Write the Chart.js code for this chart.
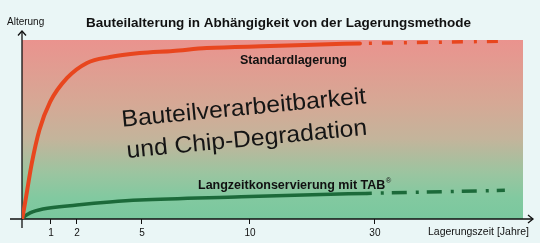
<!DOCTYPE html>
<html><head><meta charset="utf-8">
<script src="https://cdn.jsdelivr.net/npm/chart.js@4/dist/chart.umd.min.js"></script>
<style>html,body{margin:0;padding:0;background:#eaf6f6;overflow:hidden}#wrap{width:540px;height:243px;position:relative}</style>
</head><body><div id="wrap"><canvas id="c"></canvas></div>
<script>
// ---- texts ----
const chartTitle = 'Bauteilalterung in Abhängigkeit von der Lagerungsmethode';
const yAxisTitle = 'Alterung';
const xAxisTitle = 'Lagerungszeit [Jahre]';
const labelStandard = 'Standardlagerung';
const labelTab = 'Langzeitkonservierung mit TAB';
const centerLines = ['Bauteilverarbeitbarkeit', 'und Chip-Degradation'];

// ---- x axis (years, schematic broken scale) ----
const xTickValues = [1, 2, 5, 10, 30];
const axisBreakYears = [0, 1, 2, 5, 10, 30];
const axisBreakSpan  = [0, 29, 55, 120, 228, 353];
const xMaxYears = 53.7;

// ---- series: Standardlagerung (relative ageing, 0..100) ----
const standardYears  = [0, 0.03, 0.14, 0.34, 0.6, 0.97, 1.62, 2.46, 3.52, 4.9, 6.43, 8.0, 13.2, 20, 27.6];
const standardValues = [0, 2.2, 12.3, 31.3, 49.7, 65.4, 78.8, 87.2, 90.5, 92.7, 93.9, 95.5, 96.6, 97.4, 98.1];
const standardTrendYears  = [27.6, 49.7];
const standardTrendValues = [98.1, 99.3];

// ---- series: Langzeitkonservierung mit TAB ----
const tabYears  = [0, 0.03, 0.28, 0.72, 2.0, 3.52, 4.9, 9.6, 20, 28.7];
const tabValues = [0, 0.6, 3.4, 5.6, 7.8, 9.5, 10.6, 12.4, 13.6, 14.3];
const tabTrendYears  = [28.7, 50.8];
const tabTrendValues = [14.3, 16.0];

function pts(xs, ys){ return xs.map((x,i)=>({x:x, y:ys[i]})); }

function warp(v){
  const k = axisBreakYears, s = axisBreakSpan;
  if (v <= k[0]) return s[0];
  for (let i = 1; i < k.length; i++){
    if (v <= k[i]) return s[i-1] + (v-k[i-1])*(s[i]-s[i-1])/(k[i]-k[i-1]);
  }
  const n = k.length-1, slope = (s[n]-s[n-1])/(k[n]-k[n-1]);
  return s[n] + (v-k[n])*slope;
}
function unwarp(u){
  const k = axisBreakYears, s = axisBreakSpan;
  if (u <= s[0]) return k[0];
  for (let i = 1; i < s.length; i++){
    if (u <= s[i]) return k[i-1] + (u-s[i-1])*(k[i]-k[i-1])/(s[i]-s[i-1]);
  }
  const n = k.length-1, slope = (s[n]-s[n-1])/(k[n]-k[n-1]);
  return k[n] + (u-s[n])/slope;
}
class BrokenScale extends Chart.LinearScale {
  getPixelForValue(value){
    if (value === null || value === undefined) return NaN;
    const a = warp(this.min), b = warp(this.max);
    return this.getPixelForDecimal((warp(value)-a)/(b-a));
  }
  getValueForPixel(pixel){
    const a = warp(this.min), b = warp(this.max);
    return unwarp(a + this.getDecimalForPixel(pixel)*(b-a));
  }
}
BrokenScale.id = 'broken';
BrokenScale.defaults = Chart.LinearScale.defaults;
Chart.register(BrokenScale);

const FONT = '"Liberation Sans", Arial, sans-serif';
const RED = '#e8461e', GREEN = '#1c6a3a', INK = '#111';

const decor = {
  id: 'decor',
  beforeDatasetsDraw(chart){
    const {ctx, chartArea:a} = chart;
    ctx.save();
    const g = ctx.createLinearGradient(0, a.top, 0, a.bottom);
    g.addColorStop(0, '#ea938e');
    g.addColorStop(0.35, '#d6a895');
    g.addColorStop(0.55, '#c4b49b');
    g.addColorStop(0.75, '#9ac5a0');
    g.addColorStop(0.88, '#82c9a0');
    g.addColorStop(1, '#7ac89e');
    ctx.fillStyle = g;
    ctx.fillRect(a.left, a.top, a.right-a.left, a.bottom-a.top);
    // axes
    ctx.strokeStyle = INK; ctx.lineWidth = 1.3;
    ctx.beginPath();
    ctx.moveTo(a.left, a.top-9); ctx.lineTo(a.left, a.bottom+9);
    ctx.moveTo(a.left-12, a.bottom); ctx.lineTo(a.right+10, a.bottom);
    ctx.stroke();
    ctx.beginPath();
    ctx.moveTo(a.left-4, a.top-4.5); ctx.lineTo(a.left, a.top-9); ctx.lineTo(a.left+4, a.top-4.5);
    ctx.moveTo(a.right+5, a.bottom-4); ctx.lineTo(a.right+10, a.bottom); ctx.lineTo(a.right+5, a.bottom+4);
    ctx.stroke();
    ctx.restore();
  },
  afterDraw(chart){
    const {ctx, chartArea:a} = chart;
    ctx.save();
    ctx.fillStyle = INK;
    ctx.textBaseline = 'alphabetic';
    // title
    ctx.font = 'bold 13.5px ' + FONT;
    ctx.textAlign = 'center';
    ctx.fillText(chartTitle, (a.left+a.right)/2 + 6, 27);
    // axis titles
    ctx.font = '10px ' + FONT;
    ctx.textAlign = 'left';
    ctx.fillText(yAxisTitle, 7, 25);
    ctx.font = '10.5px ' + FONT;
    ctx.fillText(xAxisTitle, 428, 235);
    // series labels
    ctx.font = 'bold 12.5px ' + FONT;
    ctx.fillText(labelStandard, 240, 64);
    ctx.fillText(labelTab, 198, 189);
    const w = ctx.measureText(labelTab).width;
    ctx.font = '7.5px ' + FONT;
    ctx.fillText('\u00AE', 198 + w + 0.5, 183);
    // big rotated text
    ctx.translate(244.5, 115);
    ctx.rotate(-5.5*Math.PI/180);
    ctx.scale(1.05, 1);
    ctx.font = '23.5px ' + FONT;
    ctx.textAlign = 'center';
    ctx.fillStyle = '#151515';
    ctx.fillText(centerLines[0], 0, 0);
    ctx.fillText(centerLines[1], 0, 31.5);
    ctx.restore();
  }
};

new Chart(document.getElementById('c'), {
  type: 'line',
  data: {
    datasets: [
      { data: pts(standardYears, standardValues), borderColor: RED, borderWidth: 4, pointRadius: 0, cubicInterpolationMode: 'monotone', borderCapStyle: 'round' },
      { data: pts(standardTrendYears, standardTrendValues), borderColor: RED, borderWidth: 3.5, pointRadius: 0, borderDash: [11, 11, 3, 10], borderDashOffset: 13 },
      { data: pts(tabYears, tabValues), borderColor: GREEN, borderWidth: 3.5, pointRadius: 0, cubicInterpolationMode: 'monotone', borderCapStyle: 'round' },
      { data: pts(tabTrendYears, tabTrendValues), borderColor: GREEN, borderWidth: 3.5, pointRadius: 0, borderDash: [15, 9, 3, 8], borderDashOffset: 10 }
    ]
  },
  options: {
    responsive: true, maintainAspectRatio: false, animation: false, devicePixelRatio: 1,
    layout: { padding: { left: 22, right: 17, top: 40, bottom: 0 } },
    plugins: { legend: { display: false }, tooltip: { enabled: false }, title: { display: false } },
    scales: {
      x: {
        type: 'broken', min: 0, max: xMaxYears,
        afterBuildTicks: s => { s.ticks = xTickValues.map(v => ({ value: v })); },
        afterFit: s => { s.height = 24; },
        grid: { drawOnChartArea: false, drawTicks: true, tickLength: 5, color: INK, lineWidth: 1 },
        border: { display: false },
        ticks: { color: INK, font: { family: FONT, size: 10 }, padding: 3, maxRotation: 0, autoSkip: false, callback: v => String(v) }
      },
      y: { display: false, min: 0, max: 100 }
    }
  },
  plugins: [decor]
});
</script>
</body></html>
